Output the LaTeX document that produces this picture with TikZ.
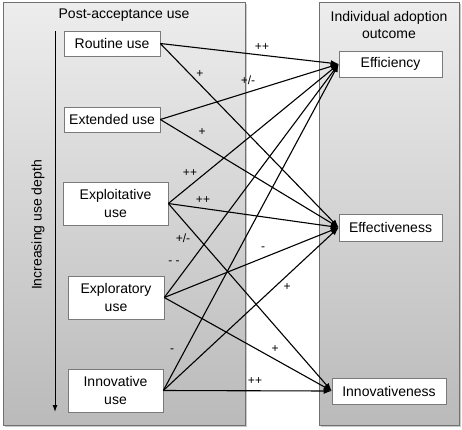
\documentclass[tikz,border=0pt]{standalone}
\usepackage{fontspec}
\setmainfont{Liberation Sans}
\usetikzlibrary{shadows,arrows.meta}
\definecolor{panelborder}{HTML}{707070}
\definecolor{boxborder}{HTML}{7A7A7A}
\begin{document}
\begin{tikzpicture}[x=1pt,y=-1pt,
  panel/.style={draw=panelborder,line width=0.8pt,top color=black!7,bottom color=black!27,
    drop shadow={shadow xshift=1.5pt,shadow yshift=-1.5pt,fill=black!35,opacity=0.6}},
  usebox/.style={draw=boxborder,line width=0.6pt,fill=white,align=center,inner sep=0pt,
    font=\fontsize{14}{17.5}\selectfont},
  conn/.style={line width=1.1pt,-{Latex[length=8pt,width=6pt]}},
  lab/.style={font=\fontsize{12}{14}\selectfont,inner sep=0pt},
  title/.style={font=\fontsize{14}{17.5}\selectfont,align=center,inner sep=0pt}]
\useasboundingbox (0,0) rectangle (462,429);
\fill[white] (0,0) rectangle (462,429);
\path[panel] (3,2) rectangle (245,425);
\path[panel] (319,2) rectangle (459,425);

\node[title] (tl) at (124,15) {Post-acceptance use};
\node[title] (tr) at (389,25) {Individual adoption\\outcome};

\coordinate (vtop) at (55,31);
\coordinate (vbot) at (55,412);
\draw[line width=1pt,-{Latex[length=7pt,width=5pt]}] (vtop) -- (vbot);
\node[title,rotate=90] (depth) at (38,225) {Increasing use depth};

\node[usebox,minimum width=96pt,minimum height=25pt] (rout) at (112,43.5) {Routine use};
\node[usebox,minimum width=96pt,minimum height=25pt] (ext) at (112,119.5) {Extended use};
\node[usebox,minimum width=105pt,minimum height=43pt] (exploit) at (115.5,203.5) {Exploitative\\use};
\node[usebox,minimum width=96pt,minimum height=43pt] (explor) at (116,297.5) {Exploratory\\use};
\node[usebox,minimum width=95pt,minimum height=43pt] (innov) at (115.5,390.5) {Innovative\\use};

\node[usebox,minimum width=103pt,minimum height=26pt] (effic) at (390.5,64) {Efficiency};
\node[usebox,minimum width=103pt,minimum height=27pt] (effect) at (390.5,227.5) {Effectiveness};
\node[usebox,minimum width=114pt,minimum height=26pt] (innovn) at (389,391) {Innovativeness};

\draw[conn] (rout.east) -- (effic.west);
\draw[conn] (rout.east) -- (effect.west);
\draw[conn] (ext.east) -- (effic.west);
\draw[conn] (ext.east) -- (effect.west);
\draw[conn] (exploit.east) -- (effic.west);
\draw[conn] (exploit.east) -- (effect.west);
\draw[conn] (exploit.east) -- (innovn.west);
\draw[conn] (explor.east) -- (effic.west);
\draw[conn] (explor.east) -- (effect.west);
\draw[conn] (explor.east) -- (innovn.west);
\draw[conn] (innov.east) -- (effic.west);
\draw[conn] (innov.east) -- (effect.west);
\draw[conn] (innov.east) -- (innovn.west);

\node[lab] (l1) at (262,47) {++};
\node[lab] (l2) at (200,74) {+};
\node[lab] (l3) at (248,80) {+/-};
\node[lab] (l4) at (202,132) {+};
\node[lab] (l5) at (190,173) {++};
\node[lab] (l6) at (203,200) {++};
\node[lab] (l7) at (183,238) {+/-};
\node[lab] (l8) at (174,263) {- -};
\node[lab] (l9) at (263,249) {-};
\node[lab] (l10) at (287,287) {+};
\node[lab] (l11) at (172,351) {-};
\node[lab] (l12) at (275,349) {+};
\node[lab] (l13) at (255,381) {++};
\end{tikzpicture}
\end{document}
